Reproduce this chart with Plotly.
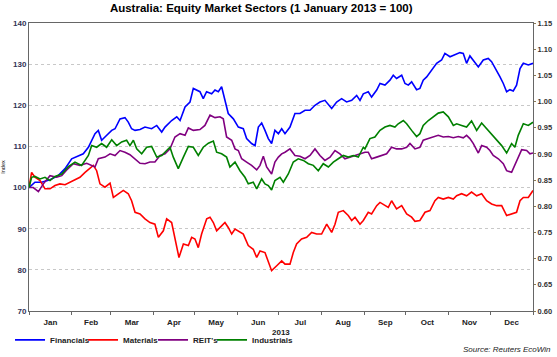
import pandas as pd
import plotly.graph_objects as go

# ---- data (day offset from 1 Jan 2013, index value) ----
fin_days = [0, 4.3, 9.2, 15.2, 21.2, 26.1, 30.9, 33.3, 36.9, 39.3, 43, 47.8, 50.2, 52.6, 55, 59.9, 62.3, 65.9, 69.5, 71.9,
            74.3, 76.8, 80.4, 84, 88.8, 92.5, 96.1, 98.5, 103.3, 107, 109.4, 113, 116.6, 119,
            123.8, 126.2, 128.6, 132.3, 134.7, 137.1, 139.5, 141.9, 144.3, 148, 151.6, 155.2, 157.6, 161.2, 163.7, 166.1,
            168.5, 170.9, 173.3, 175.7, 178.1, 180.6, 183, 185.4, 189, 192.6, 196.2, 199.9, 203.5, 207.1, 210.7, 214.3,
            219.2, 222.8, 226.4, 230, 233.7, 237.3, 239.7, 242.1,
            245.7, 248.1, 251.8, 254.2, 257.8, 261.4, 263.8, 266.2, 269.9, 272.3, 274.7, 277.1, 280.7, 283.1, 285.5, 288,
            291.6, 295.2, 298.8, 301.2, 304.9, 308.5, 312.1, 314.5, 316.9, 319.3, 321.8, 325.4, 329, 332.6, 335, 338.7,
            341.1, 343.5, 345.9, 348.3, 350.7, 353.1, 355.6, 358, 361.6, 365]
fin_vals = [100, 101.3, 101.3, 101.9, 102.9, 104.6, 107.0, 107.4, 107.8, 108.2, 109.8, 113.1, 113.9, 111.5, 112.3, 113.9,
            114.3, 116.7, 117.0, 115.9, 114.3, 113.9, 114.1, 114.7, 114.3, 115.1, 113.5, 114.7, 116.3, 117.2, 116.3, 119.6,
            120.8, 124.1,
            123.3, 121.6, 123.3, 122.8, 123.7, 123.3, 124.5, 121.2, 118.0, 116.7, 114.7, 114.3, 111.9, 110.7, 110.2, 114.7,
            115.7, 113.9, 111.9, 110.7, 113.9, 113.1, 114.3, 113.1, 114.7, 118.0, 118.0, 118.8, 118.8, 120.0, 120.8, 121.2,
            119.2, 120.8, 121.6, 120.8, 121.2, 122.4, 121.2, 122.8,
            123.3, 122.0, 123.7, 125.3, 124.9, 126.1, 127.3, 126.5, 127.3, 125.3, 124.9, 125.7, 123.8, 124.1, 126.1, 126.9,
            128.5, 130.2, 131.0, 132.6, 131.8, 132.4, 132.8, 132.6, 130.2, 132.0, 131.0, 129.3, 131.0, 131.4, 130.6, 128.5,
            126.9, 125.3, 123.3, 123.8, 123.5, 124.9, 128.9, 130.2, 129.8, 130.2]

mat_days = [0, 1.9, 4.3, 8, 11.6, 15.2, 18.8, 22.4, 26.1, 29.7, 33.3, 36.9, 40.6, 44.2, 46.6, 49, 51.4, 55, 58.7, 61.1,
            64.7, 68.3, 71.9, 74.3, 76.8, 80.4, 84, 87.6, 91.2, 93.7, 97.3, 99.7, 103.3, 105.7, 108.6, 111.8, 115.4,
            117.8, 120.2,
            122.6, 125, 128.7, 131.1, 133.5, 135.9, 139.5, 141.9, 144.3, 146.8, 149.2, 151.6, 155.2, 158.8, 162.4, 164.9,
            167.3, 170.9, 173.3, 175.7, 179.4, 183, 185.4, 189, 191.4, 193.8, 197.4, 201.1, 204.7, 208.3, 211.9, 215.6,
            219.2, 221.6, 224, 227.6, 231.2, 233.7, 236.1, 239.7, 242.1,
            245.7, 248.1, 251.8, 254.2, 256.6, 260.2, 262.6, 266.2, 269.9, 273.5, 277.1, 279.5, 283.1, 286.8, 290.4, 294,
            296.4, 300, 303.7, 307.3, 309.7, 313.3, 316.9, 320.5, 324.2, 327.8, 331.4, 335, 338.7, 342.3, 345.9, 349.5,
            353.1, 355.6, 358, 361.6, 365]
mat_vals = [100, 103.7, 102.5, 101.7, 99.7, 99.7, 100.5, 100.9, 100.7, 101.3, 101.9, 102.5, 103.7, 104.6, 105.4, 104.1,
            100.9, 100.1, 101.1, 97.6, 98.5, 99.3, 98.5, 96.8, 94.0, 93.6, 92.4, 91.5, 91.1, 87.9, 89.5, 92.4, 91.5, 87.5,
            83.0, 86.3, 85.9, 87.9, 87.5,
            85.4, 88.7, 92.4, 92.8, 91.5, 89.5, 90.7, 91.5, 90.3, 88.7, 89.9, 89.5, 88.7, 85.9, 85.0, 83.0, 84.6, 84.2,
            82.2, 79.8, 81.0, 82.2, 81.4, 81.4, 84.2, 86.3, 87.5, 87.9, 89.1, 88.7, 88.7, 91.1, 89.1, 91.1, 94.0, 94.4,
            93.2, 92.0, 92.8, 91.1, 92.0,
            94.0, 93.6, 95.6, 96.4, 96.0, 95.2, 96.8, 94.8, 95.6, 93.6, 92.8, 91.8, 92.0, 94.0, 94.4, 96.8, 97.6, 97.2,
            97.6, 97.2, 98.0, 98.5, 98.0, 98.9, 98.0, 98.5, 96.8, 96.0, 95.6, 95.6, 93.2, 93.6, 94.0, 96.8, 97.6, 97.6,
            99.3]

reit_days = [0, 3.1, 6.8, 10.4, 15.2, 20, 23.7, 27.3, 32.1, 36.9, 41.8, 45.4, 47.8, 50.2, 55, 58.7, 62.3, 65.9, 69.5,
             73.1, 76.8, 80.4, 84, 87.6, 91.2, 94.9, 98.5, 102.1, 105.7, 109.4, 113, 115.4, 119,
             123.8, 127.4, 131.1, 134.7, 138.3, 140.7, 143.1, 146.8, 149.2, 151.6, 154, 157.6, 161.2, 164.9, 167.3, 169.7,
             172.1, 175.7, 178.1, 180.6, 183, 185.4, 189, 192.6, 196.2, 199.9, 203.5, 207.1, 210.7, 214.3, 218, 221.6,
             225.2, 228.8, 232.5, 236.1, 239.7, 243.3,
             245.7, 248.1, 251.8, 255.4, 259, 262.6, 266.2, 269.9, 273.5, 275.9, 279.5, 283.1, 285.5, 289.2, 292.8, 296.4,
             300, 303.7, 307.3, 310.9, 314.5, 316.9, 319.3, 321.8, 325.4, 327.8, 331.4, 333.8, 336.2, 339.9, 343.5, 345.9,
             349.5, 351.9, 354.3, 356.8, 360.4, 362.8, 365]
reit_vals = [100, 100, 99.0, 100.9, 102.9, 102.5, 102.9, 104.3, 105.8, 105.4, 105.9, 105.4, 105.0, 107.0, 107.4, 108.2,
             107.8, 109.0, 108.6, 108.0, 107.0, 105.9, 105.8, 106.2, 106.2, 107.8, 108.2, 109.4, 112.3, 113.1, 112.7,
             114.5, 113.9,
             114.1, 115.1, 117.6, 117.0, 117.2, 116.7, 112.3, 111.5, 109.4, 109.0, 107.0, 106.2, 105.4, 104.3, 105.4,
             107.6, 105.0, 103.3, 106.2, 107.4, 108.2, 108.6, 109.4, 107.8, 107.6, 107.0, 107.8, 109.4, 107.8, 106.6,
             107.4, 109.0, 108.2, 107.0, 107.4, 107.8, 108.2, 108.6,
             108.6, 107.0, 107.4, 107.8, 108.2, 109.8, 109.4, 109.4, 109.8, 110.7, 109.4, 109.8, 111.5, 111.9, 112.3,
             112.7, 112.3, 112.4, 112.1, 112.4, 112.1, 112.7, 111.9, 110.7, 108.4, 110.2, 109.8, 109.0, 107.8, 107.0,
             105.8, 104.1, 103.7, 105.4, 107.4, 109.2, 109.0, 108.2, 108.4]

ind_days = [0, 1.9, 4.3, 8, 11.6, 15.2, 18.8, 23.7, 28.5, 33.3, 38.1, 43, 45.4, 49, 52.6, 56.2, 59.9, 63.5, 67.1, 70.7,
            73.1, 75.6, 78, 81.6, 85.2, 88.8, 92.5, 96.1, 99.7, 102.1, 104.5, 108.1, 111.8, 115.4, 119,
            122.6, 126.2, 129.9, 133.5, 135.9, 139.5, 143.1, 145.5, 149.2, 152.8, 156.4, 158.8, 162.4, 164.9, 168.5,
            170.9, 173.3, 175.7, 178.1, 181.8, 184.2, 187.8, 191.4, 195, 198.7, 202.3, 205.9, 209.5, 213.1, 216.8, 220.4,
            224, 227.6, 231.2, 234.9, 238.5, 242.1,
            243.3, 246.9, 250.5, 254.2, 257.8, 261.4, 265, 267.4, 271.1, 273.5, 277.1, 280.7, 283.1, 285.5, 289.2, 292.8,
            296.4, 300, 303.7, 307.3, 309.7, 313.3, 316.9, 320.5, 324.2, 327.8, 331.4, 335, 338.7, 342.3, 345.9, 349.5,
            351.9, 354.3, 358, 361.6, 365]
ind_vals = [100, 102.5, 102.7, 102.1, 102.5, 101.7, 102.7, 103.3, 105.1, 106.2, 105.4, 107.8, 110.2, 109.8, 110.7, 109.8,
            111.6, 110.2, 111.1, 111.5, 110.2, 111.5, 109.4, 108.2, 109.8, 110.0, 107.4, 107.8, 109.0, 109.8, 107.4,
            104.6, 107.4, 110.0, 109.8,
            107.8, 109.8, 110.8, 111.3, 108.6, 108.2, 107.4, 105.0, 106.2, 104.1, 102.5, 100.9, 101.3, 99.7, 102.1,
            100.9, 100.5, 99.4, 101.7, 102.5, 101.3, 103.3, 106.2, 107.0, 106.6, 105.8, 105.4, 104.1, 105.8, 105.0, 106.2,
            107.0, 107.8, 107.4, 107.8, 107.4, 109.8,
            109.4, 111.9, 112.3, 113.9, 114.7, 115.1, 114.7, 115.5, 116.3, 115.5, 113.9, 112.4, 113.1, 115.1, 116.3,
            117.2, 118.1, 118.4, 117.2, 115.1, 115.5, 115.1, 114.7, 116.2, 113.9, 115.7, 114.3, 113.1, 111.5, 110.2,
            108.4, 110.7, 109.8, 112.7, 115.5, 115.1, 115.9]

series_names = ["Financials", "Materials", "REIT's", "Industrials"]
series_colors = ["#0000FF", "#FF0000", "#800080", "#008000"]
left_ticks = [70, 80, 90, 100, 110, 120, 130, 140]
right_ticks = [0.60, 0.65, 0.70, 0.75, 0.80, 0.85, 0.90, 0.95, 1.00, 1.05, 1.10, 1.15]

base = pd.Timestamp("2013-01-01")


def to_dates(days):
    return [base + pd.Timedelta(days=d) for d in days]


FONT = "Liberation Sans, Arial, sans-serif"
legend_widths = [28, 25, 14, 40]

fig = go.Figure()
for name, color, lw, d, v in zip(series_names, series_colors, legend_widths,
                                 [fin_days, mat_days, reit_days, ind_days],
                                 [fin_vals, mat_vals, reit_vals, ind_vals]):
    fig.add_trace(go.Scatter(x=to_dates(d), y=v, mode="lines", name=name, legendwidth=lw,
                             line=dict(color=color, width=1.6)))

# helper (invisible) trace so the right-hand axis is drawn
fig.add_trace(go.Scatter(x=[base, base], y=[right_ticks[0], right_ticks[-1]], yaxis="y2",
                         mode="lines", line=dict(width=0), showlegend=False, hoverinfo="skip"))

fig.update_layout(
    width=557, height=357,
    margin=dict(l=29, r=24, t=23, b=46, autoexpand=False),
    paper_bgcolor="white", plot_bgcolor="white",
    font=dict(family=FONT, color="#333333"),
    title=dict(text="<b>Australia: Equity Market Sectors (1 January 2013 = 100)</b>",
               x=0.469, xanchor="center", y=0.978, yanchor="middle",
               font=dict(size=11.5, color="#000000", family=FONT)),
    showlegend=True,
    legend=dict(orientation="h", xref="container", yref="container", x=0.018, xanchor="left",
                y=0.048, yanchor="middle", entrywidthmode="pixels",
                font=dict(size=8, color="#222222", weight="bold"), bgcolor="rgba(0,0,0,0)",
                itemwidth=30, tracegroupgap=0),
    xaxis=dict(type="date", range=["2013-01-01", "2014-01-01"], dtick="M1", tickformat="%b",
               ticklabelmode="period", ticks="outside", ticklen=3, tickcolor="#666666",
               showgrid=False, showline=True, linecolor="#666666", linewidth=1, mirror=True,
               tickfont=dict(size=8, color="#222222", weight="bold"), zeroline=False, automargin=False),
    yaxis=dict(range=[70, 140], tickvals=left_ticks, showgrid=True, gridcolor="#c8c8c8",
               griddash="dot", gridwidth=1, showline=True, linecolor="#666666", linewidth=1,
               mirror=True, ticks="", tickfont=dict(size=8, color="#333355", weight="bold"),
               zeroline=False, automargin=False,
               title=dict(text="Index", font=dict(size=5.5, color="#222222"), standoff=13)),
    yaxis2=dict(range=[0.60, 1.15], tickvals=right_ticks, tickformat=".2f", overlaying="y",
                side="right", showgrid=False, showline=False, ticks="outside", ticklen=2,
                tickcolor="#8a7a55", tickfont=dict(size=7.5, color="#333333", weight="bold"),
                zeroline=False, automargin=False),
    annotations=[
        dict(text="<b>2013</b>", xref="paper", yref="paper", x=0.5, y=-0.073, xanchor="center",
             yanchor="middle", showarrow=False, font=dict(size=8, color="#222222")),
        dict(text="<i>Source: Reuters EcoWin</i>", xref="paper", yref="paper", x=1.04, y=-0.135,
             xanchor="right", yanchor="middle", showarrow=False, font=dict(size=8, color="#222222")),
    ],
)

fig.write_html("out.html", config={"displayModeBar": False},
               post_script="document.body.style.margin='0';document.body.style.padding='0';")
